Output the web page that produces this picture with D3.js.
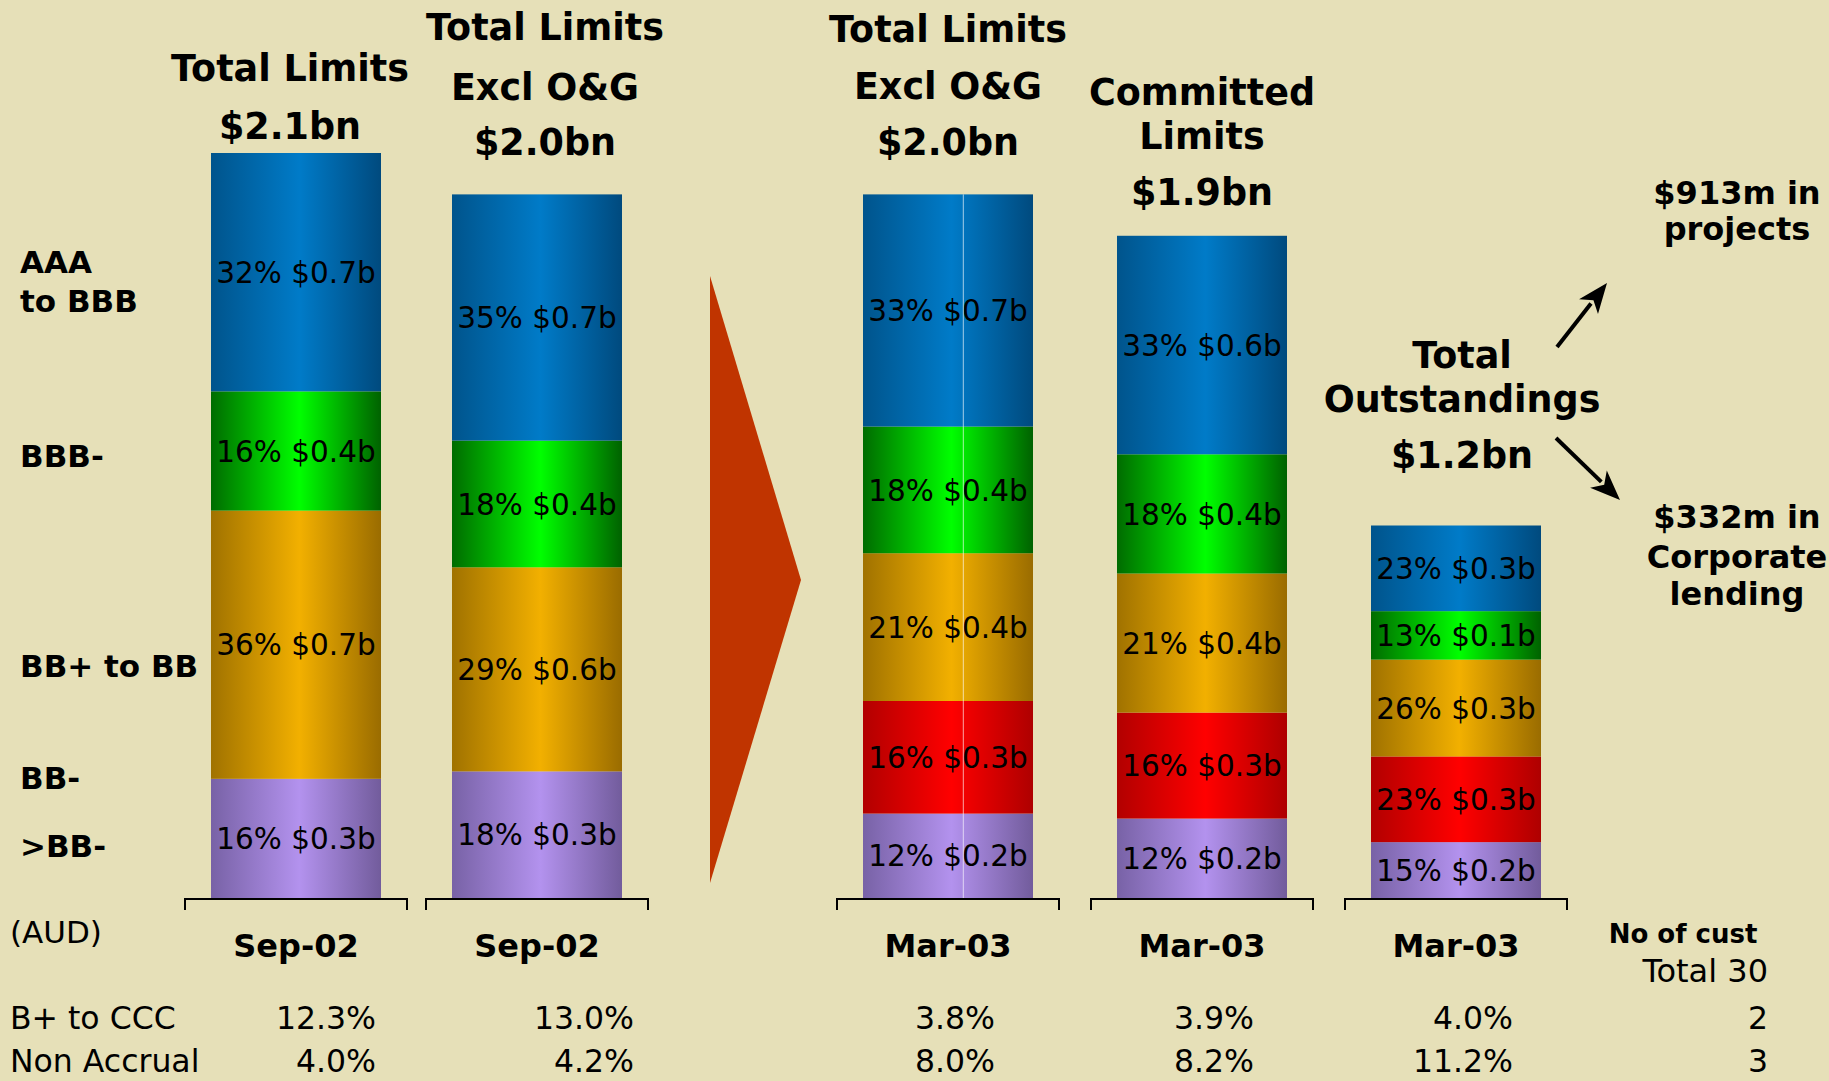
<!DOCTYPE html>
<html>
<head>
<meta charset="utf-8">
<script src="https://cdn.jsdelivr.net/npm/d3@7"></script>
<style>
  html, body { margin: 0; padding: 0; background: #e6e0b8; }
  svg { display: block; }
  text { font-family: "DejaVu Sans", Verdana, sans-serif; fill: #000; }
</style>
</head>
<body>
<svg id="chart" width="1829" height="1081"></svg>
<script>
// ---------------- data ----------------
const categories = ["AAA to BBB", "BBB-", "BB+ to BB", "BB-", ">BB-"];
const categoryLabelLines = [["AAA", "to BBB"], ["BBB-"], ["BB+ to BB"], ["BB-"], [">BB-"]];
const periods = ["Sep-02", "Sep-02", "Mar-03", "Mar-03", "Mar-03"];
const totals = [2.1, 2.0, 2.0, 1.9, 1.2];               // $bn
const headerLines = [
  ["Total Limits", "$2.1bn"],
  ["Total Limits", "Excl O&G", "$2.0bn"],
  ["Total Limits", "Excl O&G", "$2.0bn"],
  ["Committed", "Limits", "$1.9bn"],
  ["Total", "Outstandings", "$1.2bn"]
];
// share of each bar (%) by rating band
const pctAAAtoBBB     = [32, 35, 33, 33, 23];
const pctBBBminus     = [16, 18, 18, 18, 13];
const pctBBplusToBB   = [36, 29, 21, 21, 26];
const pctBBminus      = [0, 0, 16, 16, 23];
const pctAboveBBminus = [16, 18, 12, 12, 15];
// amount of each band ($bn)
const amtAAAtoBBB     = [0.7, 0.7, 0.7, 0.6, 0.3];
const amtBBBminus     = [0.4, 0.4, 0.4, 0.4, 0.1];
const amtBBplusToBB   = [0.7, 0.6, 0.4, 0.4, 0.3];
const amtBBminus      = [0, 0, 0.3, 0.3, 0.3];
const amtAboveBBminus = [0.3, 0.3, 0.2, 0.2, 0.2];
// ratios shown under the bars (%)
const rowLabels = ["B+ to CCC", "Non Accrual"];
const bPlusToCCC = [12.3, 13.0, 3.8, 3.9, 4.0];
const nonAccrual = [4.0, 4.2, 8.0, 8.2, 11.2];
// number of customers
const custLabels = ["No of cust", "Total 30"];
const custCounts = [2, 3];
// split of outstandings
const splitProjects  = ["$913m in", "projects"];
const splitCorporate = ["$332m in", "Corporate", "lending"];

// ---------------- layout ----------------
const W = 1829, H = 1081;
const baseY = 898;
const barW = 170;
const svg = d3.select("#chart");

const pctByCat = [pctAAAtoBBB, pctBBBminus, pctBBplusToBB, pctBBminus, pctAboveBBminus];
const amtByCat = [amtAAAtoBBB, amtBBBminus, amtBBplusToBB, amtBBminus, amtAboveBBminus];

const rows = periods.map((p, i) => {
  const r = { idx: i, period: p, total: totals[i] };
  categories.forEach((c, k) => { r[c] = pctByCat[k][i]; r[c + "_amt"] = amtByCat[k][i]; });
  return r;
});

// two panels: September (limits) and March
const xSep = d3.scalePoint().domain([0, 1]).range([296, 537]);
const xMar = d3.scalePoint().domain([2, 3, 4]).range([948, 1456]);
const xc = i => (i < 2 ? xSep(i) : xMar(i));

// right edges of the ratio table columns
const tSep = d3.scalePoint().domain([0, 1]).range([376, 634]);
const tMar = d3.scalePoint().domain([2, 3, 4]).range([995, 1513]);
const tx = i => (i < 2 ? tSep(i) : tMar(i));

// bar height scale ($bn)
const y = d3.scaleLinear().domain([0.3, 2.1]).range([baseY, 153]);

const colors = {
  "AAA to BBB": ["#00548c", "#007bc8", "#004a7e"],
  "BBB-":       ["#006c00", "#00ff00", "#006200"],
  "BB+ to BB":  ["#a07200", "#f2b000", "#9a6c00"],
  "BB-":        ["#b20000", "#ff0000", "#ae0000"],
  ">BB-":       ["#7862a6", "#b392ee", "#725c9c"]
};

svg.append("rect").attr("width", W).attr("height", H).attr("fill", "#e6e0b8");

const defs = svg.append("defs");
categories.forEach((c, k) => {
  const g = defs.append("linearGradient").attr("id", "grad" + k)
    .attr("x1", 0).attr("x2", 1).attr("y1", 0).attr("y2", 0);
  g.append("stop").attr("offset", "0%").attr("stop-color", colors[c][0]);
  g.append("stop").attr("offset", "52%").attr("stop-color", colors[c][1]);
  g.append("stop").attr("offset", "100%").attr("stop-color", colors[c][2]);
});

// stack bottom-up: >BB- first
const stackKeys = categories.slice().reverse();
const series = d3.stack().keys(stackKeys)(rows);

const barsG = svg.append("g");
series.forEach(s => {
  const k = categories.indexOf(s.key);
  s.forEach(d => {
    const r = d.data;
    if (r[s.key] <= 0) return;
    const seg = d3.scaleLinear().domain([0, 100]).range([baseY, y(r.total)]);
    const y0 = seg(d[0]), y1 = seg(d[1]);
    barsG.append("rect")
      .attr("x", xc(r.idx) - barW / 2).attr("width", barW)
      .attr("y", y1).attr("height", y0 - y1)
      .attr("fill", `url(#grad${k})`);
    barsG.append("text")
      .attr("x", xc(r.idx)).attr("y", (y0 + y1) / 2).attr("dy", "0.36em")
      .attr("text-anchor", "middle").attr("font-size", 29.5)
      .text(`${r[s.key]}% $${r[s.key + "_amt"].toFixed(1)}b`);
  });
});

// thin highlight line on the first March bar
barsG.append("line")
  .attr("x1", xc(2) + barW * 0.09).attr("x2", xc(2) + barW * 0.09)
  .attr("y1", y(totals[2])).attr("y2", baseY)
  .attr("stroke", "#ffffff").attr("stroke-opacity", 0.65).attr("stroke-width", 1);

// brackets under each bar
const brW = 111;
periods.forEach((p, i) => {
  const cx = xc(i);
  svg.append("path")
    .attr("d", `M${cx - brW},${baseY + 12}V${baseY + 1}H${cx + brW}V${baseY + 12}`)
    .attr("fill", "none").attr("stroke", "#000").attr("stroke-width", 2);
  svg.append("text").attr("x", cx).attr("y", 957)
    .attr("text-anchor", "middle").attr("font-size", 32).attr("font-weight", "bold")
    .text(p);
});

// headers above bars
const headerBaselines = [[81, 139], [40, 100, 155], [42, 99, 155], [105, 149, 205], [368, 412, 468]];
const headerShift = [-6, 8, 0, 0, 0];
headerLines.forEach((lines, i) => {
  const cx = i < 4 ? xc(i) + headerShift[i] : 1462;
  lines.forEach((t, j) => {
    svg.append("text").attr("x", cx).attr("y", headerBaselines[i][j])
      .attr("text-anchor", "middle").attr("font-size", 36.5).attr("font-weight", "bold")
      .text(t);
  });
});

// rating band labels on the left
const catBaselines = [[273, 312], [467], [677], [789], [857]];
categoryLabelLines.forEach((lines, k) => {
  lines.forEach((t, j) => {
    svg.append("text").attr("x", 20).attr("y", catBaselines[k][j])
      .attr("font-size", 31).attr("font-weight", "bold").text(t);
  });
});

// chevron between the two periods
svg.append("path")
  .attr("d", "M710,276L801,580L710,883Z")
  .attr("fill", "#c03400");

// split annotations with arrows
function arrow(x1, y1, x2, y2) {
  const a = Math.atan2(y2 - y1, x2 - x1);
  const hl = 30, hw = 12;
  const bx = x2 - hl * Math.cos(a), by = y2 - hl * Math.sin(a);
  svg.append("line").attr("x1", x1).attr("y1", y1).attr("x2", bx + 4 * Math.cos(a)).attr("y2", by + 4 * Math.sin(a))
    .attr("stroke", "#000").attr("stroke-width", 4);
  const px = -Math.sin(a) * hw, py = Math.cos(a) * hw;
  svg.append("path")
    .attr("d", `M${x2},${y2}L${bx + px},${by + py}L${bx + 8 * Math.cos(a)},${by + 8 * Math.sin(a)}L${bx - px},${by - py}Z`)
    .attr("fill", "#000");
}
arrow(1557, 347, 1607, 283);
arrow(1556, 438, 1620, 500);

splitProjects.forEach((t, j) => {
  svg.append("text").attr("x", 1737).attr("y", [204, 240][j])
    .attr("text-anchor", "middle").attr("font-size", 32).attr("font-weight", "bold").text(t);
});
splitCorporate.forEach((t, j) => {
  svg.append("text").attr("x", 1737).attr("y", [528, 568, 605][j])
    .attr("text-anchor", "middle").attr("font-size", 32).attr("font-weight", "bold").text(t);
});

// table under the bars
svg.append("text").attr("x", 10).attr("y", 943).attr("font-size", 31).text("(AUD)");
const rowBaselines = [1029, 1072];
[bPlusToCCC, nonAccrual].forEach((vals, r) => {
  svg.append("text").attr("x", 10).attr("y", rowBaselines[r]).attr("font-size", 31.5).text(rowLabels[r]);
  vals.forEach((v, i) => {
    svg.append("text").attr("x", tx(i)).attr("y", rowBaselines[r])
      .attr("text-anchor", "end").attr("font-size", 31.5).text(v.toFixed(1) + "%");
  });
  svg.append("text").attr("x", 1768).attr("y", rowBaselines[r])
    .attr("text-anchor", "end").attr("font-size", 31.5).text(custCounts[r]);
});
svg.append("text").attr("x", 1683).attr("y", 943).attr("text-anchor", "middle")
  .attr("font-size", 26).attr("font-weight", "bold").text(custLabels[0]);
svg.append("text").attr("x", 1768).attr("y", 982).attr("text-anchor", "end")
  .attr("font-size", 32).text(custLabels[1]);
</script>
</body>
</html>
